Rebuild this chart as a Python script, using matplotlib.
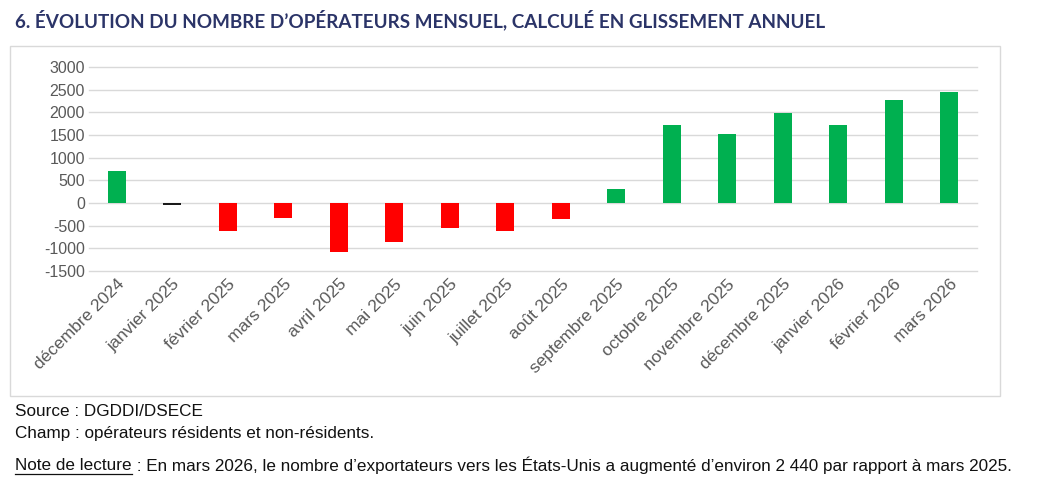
import matplotlib
matplotlib.use("Agg")
import matplotlib.pyplot as plt
from matplotlib.patches import Rectangle

months = ["décembre 2024", "janvier 2025", "février 2025", "mars 2025", "avril 2025",
          "mai 2025", "juin 2025", "juillet 2025", "août 2025", "septembre 2025",
          "octobre 2025", "novembre 2025", "décembre 2025", "janvier 2026",
          "février 2026", "mars 2026"]
values = [700, -40, -615, -330, -1075, -855, -550, -615, -350, 300,
          1730, 1520, 1990, 1715, 2280, 2440]
yticks = [-1500, -1000, -500, 0, 500, 1000, 1500, 2000, 2500, 3000]

GREEN = "#00B050"
RED = "#FF0000"
colors = []
for v in values:
    if abs(v) < 60:
        colors.append("#1a1a1a")
    elif v > 0:
        colors.append(GREEN)
    else:
        colors.append(RED)

body = ["Liberation Sans", "DejaVu Sans"]

fig = plt.figure(figsize=(10.44, 4.86), dpi=100)
W, H = 1044, 486

# chart frame
fig.patches.append(Rectangle((10 / W, 1 - 396 / H), 990 / W, 350 / H,
                             transform=fig.transFigure, fill=False,
                             edgecolor="#d9d9d9", linewidth=1))

ax = fig.add_axes([89 / W, 1 - 271 / H, 888 / W, 204 / H])
x = list(range(len(months)))
ax.bar(x, values, width=0.33, color=colors, zorder=3)
ax.set_xlim(-0.5, len(months) - 0.5)
ax.set_ylim(-1500, 3000)
ax.set_yticks(yticks)
ax.set_yticklabels([str(t) for t in yticks], family=body, fontsize=11.5, color="#595959")
ax.yaxis.grid(True, color="#d9d9d9", linewidth=1, zorder=0)
for gl in ax.get_ygridlines():
    gl.set_clip_on(False)
ax.set_axisbelow(True)
ax.tick_params(axis="y", length=0, pad=3)
ax.tick_params(axis="x", length=0, pad=4)
for s in ax.spines.values():
    s.set_visible(False)
ax.set_xticks(x)
ax.set_xticklabels(months, rotation=45, ha="right", rotation_mode="anchor",
                   family=body, fontsize=12.5, color="#595959")

fig.text(15 / W, 1 - 20 / H, "6. ÉVOLUTION DU NOMBRE D’OPÉRATEURS MENSUEL, CALCULÉ EN GLISSEMENT ANNUEL",
         family=["Lato", "DejaVu Sans"], fontweight="bold", fontsize=13.6,
         color="#2b3468", va="center", ha="left")

fs = 12.35
fig.text(15 / W, 1 - 411 / H, "Source : DGDDI/DSECE", family=body, fontsize=fs,
         color="#111111", va="center")
fig.text(15 / W, 1 - 433 / H, "Champ : opérateurs résidents et non-résidents.", family=body,
         fontsize=fs, color="#111111", va="center")
t1 = fig.text(15 / W, 1 - 465 / H, "Note de lecture", family=body, fontsize=fs,
              color="#111111", va="center")
fig.canvas.draw()
bb = t1.get_window_extent()
fig.add_artist(plt.Line2D([bb.x0 / W, bb.x1 / W], [(bb.y0 - 1) / H, (bb.y0 - 1) / H],
                          transform=fig.transFigure, color="#111111", linewidth=0.9))
fig.text(bb.x1 / W, 1 - 465 / H,
         " : En mars 2026, le nombre d’exportateurs vers les États-Unis a augmenté d’environ 2 440 par rapport à mars 2025.",
         family=body, fontsize=fs, color="#111111", va="center")

fig.savefig("out.png", dpi=100, facecolor="white")
